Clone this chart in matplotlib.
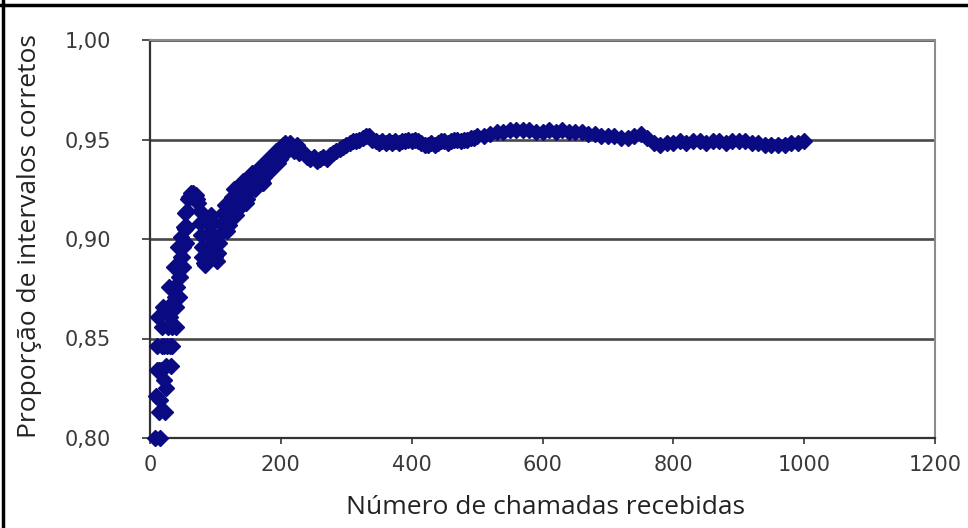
"""Proportion of correct intervals vs number of calls received (Excel-style scatter)."""

import numpy as np
import matplotlib
matplotlib.use("Agg")
import matplotlib.pyplot as plt
from matplotlib.lines import Line2D
from matplotlib.ticker import FuncFormatter

NAVY = "#0a0a82"

# --- data ---------------------------------------------------------------------
# first calls: proportions jump a lot
n_early = list(range(8, 59)) + [60, 62, 64, 66, 68, 70]
p_early = [0.800, 0.821, 0.834, 0.846, 0.861, 0.834, 0.813, 0.800,
           0.819, 0.834, 0.846, 0.856, 0.866, 0.846, 0.829, 0.813,
           0.825, 0.836, 0.846, 0.856, 0.866, 0.876, 0.861, 0.846,
           0.836, 0.846, 0.856, 0.866, 0.876, 0.886, 0.871, 0.856,
           0.866, 0.876, 0.886, 0.896, 0.881, 0.871, 0.881, 0.891,
           0.901, 0.891, 0.886, 0.896, 0.906, 0.913, 0.905, 0.898,
           0.906, 0.914, 0.920,
           0.921, 0.923, 0.922, 0.923, 0.921, 0.922]

# dip after the first peak and the climb towards 0.95
n_mid = [72, 74, 76, 77, 78, 79, 80, 82, 84, 86, 88, 89, 90, 92, 94, 96, 97, 98,
         100, 102, 104, 106, 108, 110, 112, 114, 116, 117, 118, 120, 122, 124, 126,
         128, 130, 131, 132, 134, 136, 138, 140, 142, 144, 145, 146, 148, 150, 152,
         154, 156, 158, 159, 160, 162, 164, 166, 168, 170, 171, 172, 174, 176, 178,
         180, 182, 184, 186, 188, 190, 192, 194, 196, 198, 200, 202, 204, 206, 208,
         210, 212, 214, 216, 218, 220, 222, 224, 226, 228, 230]
p_mid = [0.920, 0.918, 0.914, 0.908, 0.902, 0.896, 0.891, 0.888, 0.887, 0.890,
         0.896, 0.902, 0.907, 0.911, 0.912, 0.908, 0.902, 0.896, 0.891, 0.889,
         0.893, 0.898, 0.903, 0.908, 0.913, 0.917, 0.913, 0.908, 0.904, 0.907,
         0.912, 0.917, 0.921, 0.925, 0.921, 0.916, 0.912, 0.915, 0.919, 0.923,
         0.927, 0.929, 0.925, 0.921, 0.918, 0.920, 0.924, 0.928, 0.931, 0.933,
         0.930, 0.926, 0.925, 0.928, 0.931, 0.934, 0.936, 0.933, 0.929, 0.928,
         0.931, 0.934, 0.937, 0.940, 0.937, 0.934, 0.936, 0.939, 0.942, 0.944,
         0.941, 0.938, 0.940, 0.943, 0.945, 0.947, 0.948, 0.946, 0.944, 0.946,
         0.948, 0.947, 0.945, 0.944, 0.946, 0.947, 0.945, 0.943, 0.944]

# settled part, every 5 calls
n_late1 = list(range(235, 501, 5))
p_late1 = [0.943, 0.941, 0.940, 0.941, 0.939, 0.940, 0.941, 0.940, 0.942, 0.943,
           0.944, 0.945, 0.946, 0.947, 0.948, 0.949, 0.949, 0.950, 0.951, 0.952,
           0.952, 0.950, 0.949, 0.948, 0.949, 0.948, 0.949, 0.948, 0.949, 0.948,
           0.949, 0.949, 0.950, 0.949, 0.950, 0.949, 0.948, 0.947, 0.947, 0.948,
           0.947, 0.948, 0.949, 0.949, 0.948, 0.949, 0.950, 0.950, 0.949, 0.950,
           0.950, 0.951, 0.951, 0.952]

# every 10 calls up to 1000
n_late2 = list(range(510, 1001, 10))
p_late2 = [0.952, 0.953, 0.954, 0.954, 0.955, 0.955, 0.955, 0.955, 0.954, 0.954,
           0.955, 0.954, 0.955, 0.954, 0.954, 0.954, 0.953, 0.953, 0.952, 0.952,
           0.952, 0.951, 0.951, 0.952, 0.953, 0.951, 0.948, 0.947, 0.948, 0.948,
           0.949, 0.948, 0.949, 0.949, 0.948, 0.949, 0.949, 0.948, 0.949, 0.949,
           0.949, 0.948, 0.948, 0.947, 0.947, 0.947, 0.947, 0.948, 0.948, 0.949]

x_ticks = [0, 200, 400, 600, 800, 1000, 1200]
y_ticks = [0.80, 0.85, 0.90, 0.95, 1.00]

n_calls = np.concatenate([n_early, n_mid, n_late1, n_late2])
prop = np.concatenate([p_early, p_mid, p_late1, p_late2])

# --- figure -------------------------------------------------------------------
fig = plt.figure(figsize=(9.68, 5.28), dpi=100)
ax = fig.add_axes([150 / 968, 90 / 528, 785 / 968, 398 / 528])

ax.plot(n_calls, prop, ls="none", marker="D", ms=8.5, color=NAVY, mec=NAVY,
        zorder=3, clip_on=False)

ax.set_xlim(0, 1200)
ax.set_ylim(0.80, 1.00)
ax.set_xticks(x_ticks)
ax.set_yticks(y_ticks)
ax.yaxis.set_major_formatter(FuncFormatter(lambda v, _: f"{v:.2f}".replace(".", ",")))

ax.yaxis.grid(True, color="#484848", lw=1.9)
ax.set_axisbelow(True)

for s in ("left", "bottom"):
    ax.spines[s].set_color("#333333"); ax.spines[s].set_linewidth(1.6)
for s in ("top", "right"):
    ax.spines[s].set_color("#8c8c8c"); ax.spines[s].set_linewidth(1.5)

ax.tick_params(axis="y", direction="out", length=6, width=1.2, color="#333333",
               pad=22, labelsize=15, labelcolor="#3a3a3a")
ax.tick_params(axis="x", direction="out", length=4, width=1.2, color="#333333",
               pad=8, labelsize=15, labelcolor="#3a3a3a")

fig.text(30 / 968, 1 - 236 / 528, "Proporção de intervalos corretos", rotation=90,
         ha="center", va="center", fontsize=19, family="Open Sans", color="#222222")
fig.text(545 / 968, 1 - 507 / 528, "Número de chamadas recebidas",
         ha="center", va="center", fontsize=19, family="Open Sans", color="#222222")

# black frame on the left and top of the picture
fig.add_artist(Line2D([2.5 / 968, 2.5 / 968], [0, 1], color="black", lw=2.5,
                      transform=fig.transFigure))
fig.add_artist(Line2D([0, 1], [1 - 5 / 528, 1 - 5 / 528], color="black", lw=2.5,
                      transform=fig.transFigure))

fig.savefig("out.png", dpi=100)
